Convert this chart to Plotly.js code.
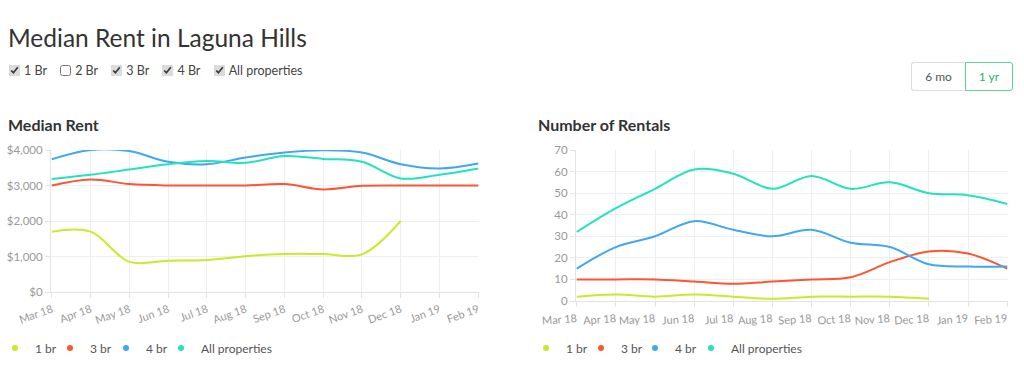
<!DOCTYPE html>
<html>
<head>
<meta charset="utf-8">
<script src="https://cdn.plot.ly/plotly-3.0.1.min.js"></script>
<style>
  html, body { margin:0; padding:0; background:#fff; width:1024px; height:377px; overflow:hidden; font-family:"Lato","Open Sans",sans-serif; position:relative; }
  #title { position:absolute; left:8px; top:23px; font-size:24.5px; color:#333; font-weight:400; }
  #checks { position:absolute; left:8px; top:63px; font-size:12.5px; color:#444; }
  #checks label { margin-right:9px; display:inline-flex; align-items:center; }
  #checks input { margin:0 4px 0 1px; width:11px; height:11px; accent-color:#dcdcdc; }
  #btns { position:absolute; left:911px; top:62px; display:flex; font-size:12px; }
  #btns div { height:27px; line-height:27px; text-align:center; }
  #b6 { width:53px; border:1px solid #ddd; border-right:none; border-radius:3px 0 0 3px; color:#555; }
  #b1 { width:46px; border:1px solid #5fd38d; border-radius:0 3px 3px 0; color:#2eb365; }
  #left { position:absolute; left:-16px; top:100px; width:528px; height:277px; }
  #right { position:absolute; left:512px; top:100px; width:512px; height:277px; }
</style>
</head>
<body>
<div id="title">Median Rent in Laguna Hills</div>
<div id="checks">
  <label><input type="checkbox" checked>1 Br</label>
  <label><input type="checkbox">2 Br</label>
  <label><input type="checkbox" checked>3 Br</label>
  <label><input type="checkbox" checked>4 Br</label>
  <label><input type="checkbox" checked>All properties</label>
</div>
<div id="btns"><div id="b6">6 mo</div><div id="b1">1 yr</div></div>
<div id="left"></div>
<div id="right"></div>
<script>
const months = ["Mar 18","Apr 18","May 18","Jun 18","Jul 18","Aug 18","Sep 18","Oct 18","Nov 18","Dec 18","Jan 19","Feb 19"];
const seriesNames = ["1 br","3 br","4 br","All properties"];
const seriesColors = ["#c9ea2c","#ff5433","#3fa7f3","#22e3bb"];

// Median rent ($)
const rent1br = [1700,1700,850,880,900,1010,1070,1070,1060,2000,null,null];
const rent3br = [3000,3170,3040,3000,3000,3000,3040,2890,2990,3000,3000,3000];
const rent4br = [3740,4000,3970,3670,3600,3790,3930,3990,3930,3600,3480,3620];
const rentAll = [3180,3300,3450,3600,3690,3640,3830,3750,3670,3200,3300,3480];
const rentTickVals = [0,1000,2000,3000,4000];
const rentTickText = ["$0","$1,000","$2,000","$3,000","$4,000"];

// Number of rentals
const count1br = [2,3,2,3,2,1,2,2,2,1,null,null];
const count3br = [10,10,10,9,8,9,10,11,18,23,22,15];
const count4br = [15,25,30,37,33,30,33,27,25,17,16,16];
const countAll = [32,43,52,61,59,52,58,52,55,50,49,45];
const countTickVals = [0,10,20,30,40,50,60,70];

const FAM = "Lato, 'Open Sans', sans-serif";
const font = {family:FAM, size:11, color:"#999"};
const legendIds = ["legend","legend2","legend3","legend4"];

function traces(arrs){
  const out = [];
  arrs.forEach((ys,i)=>{
    out.push({x:months, y:ys, type:"scatter", mode:"lines", line:{shape:"spline", smoothing:1, width:2, color:seriesColors[i]}, showlegend:false, connectgaps:false, hoverinfo:"skip"});
  });
  seriesNames.forEach((n,i)=>{
    out.push({x:[null], y:[null], type:"scatter", mode:"markers", name:n, legend:legendIds[i], marker:{size:6, color:seriesColors[i]}, showlegend:true});
  });
  return out;
}

function axisX(angle, standoff){
  return {type:"category", tickangle:angle, ticklabelstandoff:standoff, showgrid:true, gridcolor:"#eeeeee", showline:true, linecolor:"#e3e3e3", ticks:"outside", ticklen:5, tickcolor:"#e3e3e3", tickfont:font, zeroline:false, fixedrange:true, range:[-0.02, 11.02]};
}
function axisY(extra){
  return Object.assign({showgrid:true, gridcolor:"#eeeeee", showline:true, linecolor:"#e3e3e3", ticks:"outside", ticklen:5, tickcolor:"#e3e3e3", tickfont:Object.assign({}, font, {size:11.5}), zeroline:false, fixedrange:true, tickmode:"array"}, extra);
}
function legends(layout, lefts, width, ycenter){
  legendIds.forEach((id,i)=>{
    layout[id] = {orientation:"h", xref:"container", yref:"container", x:lefts[i]/width, xanchor:"left", y:1-ycenter/277, yanchor:"middle", font:{family:FAM, size:12, color:"#555"}, itemwidth:30, bgcolor:"rgba(0,0,0,0)"};
  });
  return layout;
}
function title(text, x, width){
  return {text:text, x:x/width, xanchor:"left", xref:"container", y:1-25/277, yref:"container", yanchor:"middle", font:{family:FAM, size:16, color:"#333", weight:700}};
}

Plotly.newPlot("left", traces([rent1br,rent3br,rent4br,rentAll]), legends({
  width:528, height:277,
  margin:{l:67, r:33, t:50, b:85},
  title:title("Median Rent", 24, 528),
  xaxis:axisX(-20, 1),
  yaxis:axisY({range:[0,4000], tickvals:rentTickVals, ticktext:rentTickText}),
  paper_bgcolor:"rgba(0,0,0,0)", plot_bgcolor:"#fff"
}, [11,66,122,177], 528, 248), {staticPlot:true, displayModeBar:false});

Plotly.newPlot("right", traces([count1br,count3br,count4br,countAll]), legends({
  width:512, height:277,
  margin:{l:64, r:16, t:50, b:76},
  title:title("Number of Rentals", 26, 512),
  xaxis:axisX(-4, 2),
  yaxis:axisY({range:[0,70], tickvals:countTickVals}),
  paper_bgcolor:"rgba(0,0,0,0)", plot_bgcolor:"#fff"
}, [14,69,123,179], 512, 248), {staticPlot:true, displayModeBar:false});
</script>
</body>
</html>
